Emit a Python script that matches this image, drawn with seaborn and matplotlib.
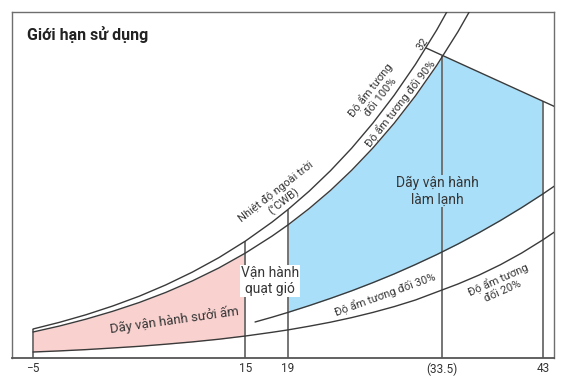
"""Operating range chart (Giới hạn sử dụng) redrawn with seaborn."""

import matplotlib

matplotlib.use("Agg")
import matplotlib.pyplot as plt
import seaborn as sns

# -----------------------------------------------------------#
#                          DATA                              #
# -----------------------------------------------------------#

# outdoor temperature (deg C) and curve heights (approx. g/kg)
rh100_T = [-5, -2.5, 0, 2.5, 5, 7.5, 10, 12.5, 15, 17.5, 19, 21, 23, 25, 27, 29, 31, 33, 35]
rh100_y = [2.90, 3.57, 4.33, 5.20, 6.18, 7.31, 8.59, 10.04, 11.70, 13.59, 14.85, 16.69,
           18.73, 20.99, 23.50, 26.28, 29.37, 32.80, 36.60]

rh90_T = [-5, -2.5, 0, 2.5, 5, 7.5, 10, 12.5, 15, 17.5, 19, 21, 23, 25, 27, 29, 31, 33, 35, 37]
rh90_y = [2.60, 3.20, 3.89, 4.67, 5.55, 6.56, 7.71, 9.01, 10.50, 12.19, 13.31, 14.95,
          16.76, 18.78, 21.01, 23.48, 26.22, 29.26, 32.63, 36.36]

rh30_T = [15.9, 17.5, 19, 21, 23, 25, 27, 29, 31, 33, 35, 37, 39, 41, 43, 44.5]
rh30_y = [3.60, 4.08, 4.56, 5.24, 5.96, 6.72, 7.54, 8.41, 9.35, 10.34, 11.40, 12.54,
          13.75, 15.04, 16.41, 17.50]

rh20_T = [-5, -2.5, 0, 2.5, 5, 7.5, 10, 12.5, 15, 17.5, 19, 21, 23, 25, 27, 29, 31, 33,
          35, 37, 39, 41, 43, 44.5]
rh20_y = [0.60, 0.71, 0.84, 1.00, 1.17, 1.38, 1.61, 1.88, 2.20, 2.57, 2.81, 3.18, 3.58,
          4.04, 4.56, 5.14, 5.80, 6.60, 7.40, 8.30, 9.33, 10.50, 11.82, 12.90]

# wet bulb 32 line
wb32_T = [32, 44.5]
wb32_y = [31.0, 24.95]

# heating range (between 90% and 20%)
heat_T = [-5, -2.5, 0, 2.5, 5, 7.5, 10, 12.5, 15]
heat_top = [2.60, 3.20, 3.89, 4.67, 5.55, 6.56, 7.71, 9.01, 10.50]
heat_bottom = [0.60, 0.71, 0.84, 1.00, 1.17, 1.38, 1.61, 1.88, 2.20]

# cooling range (between 90% / wet bulb 32 and 30%)
cool_T = [19, 21, 23, 25, 27, 29, 31, 33, 33.6, 35, 37, 39, 41, 43]
cool_top = [13.31, 14.95, 16.76, 18.78, 21.01, 23.48, 26.22, 29.26, 30.2, 29.55, 28.6,
            27.6, 26.65, 25.7]
cool_bottom = [4.56, 5.24, 5.96, 6.72, 7.54, 8.41, 9.35, 10.34, 10.65, 11.40, 12.54,
               13.75, 15.04, 16.41]

# vertical limit lines
tick_T = [-5, 15, 19, 33.5, 43]
tick_labels = ["\u22125", "15", "19", "(33.5)", "43"]
vline_top = [2.9, 11.75, 14.85, 30.25, 25.7]

# -----------------------------------------------------------#
#                          PLOT                              #
# -----------------------------------------------------------#

sns.set_style("white")
plt.rcParams["font.family"] = ["Roboto", "DejaVu Sans"]

fig = plt.figure(figsize=(5.7, 3.8), dpi=100)
ax = fig.add_axes([12 / 570, 22 / 380, 542 / 570, 346 / 380])

blue = "#aadff9"
pink = "#f9d2d0"
line_c = "#3a3a3a"
text_c = "#363636"

ax.fill_between(heat_T, heat_bottom, heat_top, color=pink, lw=0, zorder=1)
ax.fill_between(cool_T, cool_bottom, cool_top, color=blue, lw=0, zorder=1)

for xs, ys in [
    (rh100_T, rh100_y),
    (rh90_T, rh90_y),
    (rh30_T, rh30_y),
    (rh20_T, rh20_y),
    (wb32_T, wb32_y),
]:
    sns.lineplot(x=xs, y=ys, ax=ax, color=line_c, lw=1.0, zorder=3)

ax.vlines(tick_T, 0, vline_top, color="#6a6a6a", lw=1.3, zorder=2)

ax.set_xlim(-6.98, 44.04)
ax.set_ylim(0, 34.6)
ax.set_xticks(tick_T)
ax.set_xticklabels(tick_labels, fontsize=8.5, color="#333333")
ax.set_yticks([])
ax.tick_params(axis="x", length=0, pad=3)
for side in ["left", "top", "right"]:
    ax.spines[side].set_color("#6e6e6e")
    ax.spines[side].set_linewidth(1.0)
ax.spines["bottom"].set_color("#555555")
ax.spines["bottom"].set_linewidth(1.3)

ax.text(0.028, 0.934, "Giới hạn sử dụng", transform=ax.transAxes, ha="left",
        va="center", fontsize=11.5, fontweight="bold", color="#222222")

# region labels
ax.text(8.3, 3.8, "Dãy vận hành sưởi ấm", rotation=8, ha="center", va="center",
        fontsize=9.5, color=text_c, zorder=4)
ax.text(17.3, 7.7, "Vận hành\nquạt gió", ha="center", va="center", fontsize=10,
        color=text_c, linespacing=1.25, zorder=4,
        bbox=dict(facecolor="white", edgecolor="none", pad=0.5))
ax.text(33.1, 16.7, "Dãy vận hành\nlàm lạnh", ha="center", va="center", fontsize=10,
        color=text_c, linespacing=1.25, zorder=4,
        bbox=dict(facecolor=blue, edgecolor="none", pad=0.5))

# curve labels
small = 8
ax.text(18.25, 16.1, "Nhiệt độ ngoài trời\n(°CWB)", rotation=38, ha="center",
        va="center", fontsize=small, color=text_c, rotation_mode="anchor")
ax.text(27.2, 26.5, "Độ ẩm tương\nđối 100%", rotation=52, ha="center", va="center",
        fontsize=small, color=text_c, rotation_mode="anchor")
ax.text(29.55, 25.5, "Độ ẩm tương đối 90%", rotation=52, ha="center", va="center",
        fontsize=small, color=text_c, rotation_mode="anchor")
ax.text(28.1, 6.4, "Độ ẩm tương đối 30%", rotation=20, ha="center", va="center",
        fontsize=small, color=text_c, rotation_mode="anchor")
ax.text(38.95, 7.3, "Độ ẩm tương\nđối 20%", rotation=24, ha="center", va="center",
        fontsize=small, color=text_c, rotation_mode="anchor")
ax.text(31.7, 31.4, "32", rotation=55, ha="center", va="center", fontsize=small,
        color=text_c, rotation_mode="anchor")

fig.savefig("out.png", dpi=100)
